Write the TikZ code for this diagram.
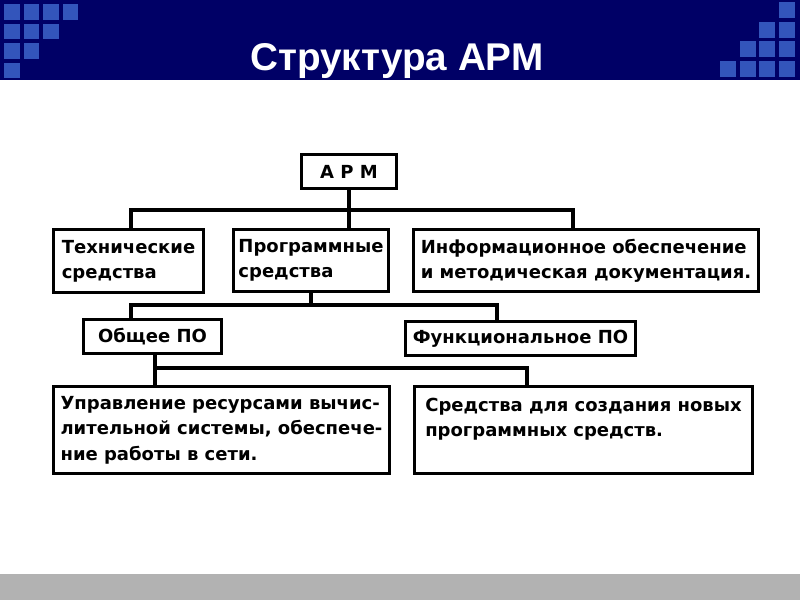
\documentclass[tikz,border=0pt]{standalone}
\usepackage{fontspec}
\setmainfont{DejaVu Sans}
\newfontfamily\titlefont{Liberation Sans}
\usetikzlibrary{positioning}

\definecolor{navy}{RGB}{0,0,102}
\definecolor{tileblue}{RGB}{51,85,187}
\definecolor{bargray}{RGB}{178,178,178}

\begin{document}
\begin{tikzpicture}[
    x=0.75pt, y=-0.75pt,
    box/.style={
        rectangle, draw, line width=2.6pt,
        align=left, inner sep=0pt,
        font=\fontsize{13.5}{19}\selectfont\bfseries
    },
    wire/.style={line width=2.6pt},
    tile/.style={fill=tileblue}
]
\useasboundingbox (0,0) rectangle (800,600);
% header and footer bands
\fill[navy] (0,0) rectangle (800,80);
\fill[bargray] (0,574) rectangle (800,600);
\foreach \r/\n in {0/3,1/2,2/1,3/0}
  \foreach \c in {0,...,\n}
    \fill[tile] (4+19.6*\c, 4+19.5*\r) rectangle ++(15.5,15.5);
\foreach \r/\n in {0/3,1/2,2/1,3/0}
  \foreach \c in {\n,...,3}
    \fill[tile] (720+19.6*\c, 2+19.6*\r) rectangle ++(16,16);
\node[font=\titlefont\fontsize{29}{32}\selectfont\bfseries, text=white, anchor=base]
  (title) at (397,70) {Структура АРМ};

% boxes
\node[box, align=center, minimum width=71.25pt, minimum height=25.5pt] (apm) at (349,171.5) {А Р М};
\node[box, minimum width=112.5pt, minimum height=47.25pt] (tech) at (128.5,261) {Технические\\средства};
\node[box, minimum width=116.25pt, minimum height=46.5pt] (prog) at (311,260.5) {Программные\\средства};
\node[box, minimum width=258.75pt, minimum height=46.5pt] (info) at (586,260.5)
  {Информационное обеспечение\\и методическая документация.};
\node[box, minimum width=103.5pt, minimum height=25.5pt] (obsh) at (152.5,336.5) {Общее ПО};
\node[box, minimum width=172.5pt, minimum height=25.5pt] (func) at (520.5,338.5) {Функциональное ПО};
\node[box, minimum width=252pt, minimum height=65.25pt] (upr) at (221.5,430)
  {Управление ресурсами вычис-\\лительной системы, обеспече-\\ние работы в сети.};
\node[box, minimum width=253.5pt, minimum height=65.25pt] (sred) at (583.5,430)
  {Средства для создания новых\\программных средств.\\\mbox{}};

% connectors
\coordinate (j1l) at (131,210);
\coordinate (j1r) at (573,210);
\coordinate (j2l) at (131,305);
\coordinate (j2r) at (497,305);
\coordinate (j3l) at (155,368);
\coordinate (j3r) at (527,368);
\draw[wire] (apm.south) -- (apm.south |- prog.north);
\draw[wire] (j1l |- tech.north) -- (j1l) -- (j1r) -- (j1r |- info.north);
\draw[wire] (prog.south) -- (prog.south |- j2l);
\draw[wire] (j2l |- obsh.north) -- (j2l) -- (j2r) -- (j2r |- func.north);
\draw[wire] (j3l |- obsh.south) -- (j3l |- upr.north);
\draw[wire] (j3l) -- (j3r) -- (j3r |- sred.north);
\end{tikzpicture}
\end{document}
